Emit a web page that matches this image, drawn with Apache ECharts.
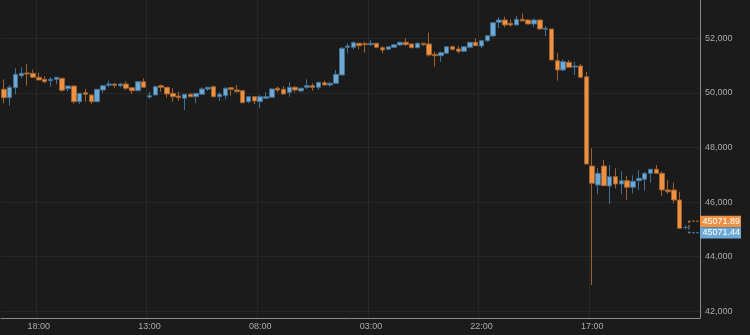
<!DOCTYPE html>
<html>
<head>
<meta charset="utf-8">
<script src="https://cdn.jsdelivr.net/npm/echarts@6/dist/echarts.min.js"></script>
<style>
html,body{margin:0;padding:0;background:#1b1b1b;}
#chart{width:750px;height:335px;}
</style>
</head>
<body>
<div id="chart"></div>
<script>
// ---- data ----
const startHour = 12;          // hour of first category
const categoryCount = 120;     // hourly slots on the axis
const labelStart = 6;          // first labelled slot (18:00)
const labelEvery = 19;         // label every 19 hours

const opens = [50132,49825,50191,50630,50729,50718,50572,50498,50447,50498,
  50535,50154,50253,49678,50007,49923,49678,50106,50279,50326,
  50264,50326,50191,50081,50410,49850,49923,50264,50205,49985,
  49887,49803,49949,49861,49949,50143,50227,49861,49898,50191,
  50106,50081,49678,49861,49678,49803,49839,50169,50132,50022,
  50205,50070,50205,50264,50205,50374,50290,50352,50656,51670,
  51670,51817,51802,51766,51817,51656,51597,51670,51755,51854,
  51791,51656,51817,51791,51414,51363,51451,51692,51608,51524,
  51670,51854,51718,51912,52084,52586,52670,52550,52487,52696,
  52670,52524,52670,52330,52341,51180,50839,51121,50949,50985,
  50593,47322,46627,47322,46590,46931,46663,46784,46542,46784,
  46835,47055,47202,47055,46443,46443,46077,45071.44];
const closes = [49825,50205,50681,50718,50692,50572,50473,50410,50498,50572,
  50095,50253,49678,49985,49949,49678,50132,50264,50326,50279,
  50326,50169,50081,50410,50205,49898,50227,50205,49960,49861,
  49825,49949,49861,49985,50143,50205,49861,49949,50169,50132,
  50044,49641,49861,49704,49861,49861,50143,50106,49960,50205,
  50106,50169,50264,50205,50388,50290,50352,50681,51634,51718,
  51839,51729,51766,51817,51670,51572,51692,51766,51854,51766,
  51656,51817,51766,51388,51363,51473,51692,51597,51524,51692,
  51854,51729,51912,52095,52572,52670,52487,52487,52696,52634,
  52524,52670,52341,52366,51205,50839,51143,50938,50985,50572,
  47396,46689,47055,46601,46931,46663,46784,46542,46762,46872,
  47055,47202,47055,46443,46381,46077,45040,45071.89];
const lows = [49619,49531,49949,50535,50264,50572,50473,50352,50227,50315,
  50044,50044,49605,49583,49678,49583,49656,50007,50205,50169,
  50205,50106,49960,50070,50205,49777,49923,50044,49825,49678,
  49704,49374,49839,49619,49949,50070,49839,49704,49766,49898,
  50022,49641,49619,49593,49436,49803,49839,50022,49960,49861,
  50022,50022,50143,50081,50106,50264,50227,50352,50656,51451,
  51597,51597,51473,51718,51634,51451,51572,51634,51729,51718,
  51634,51634,51718,51326,50960,51143,51451,51546,51451,51498,
  51634,51729,51634,51876,52059,52366,52403,52425,52487,52634,
  52524,52403,52330,52084,51205,50447,50802,50923,50656,50557,
  47396,42963,46297,46601,45931,46506,46297,46077,46322,46443,
  46418,46711,47055,46224,46297,45956,45040,44990];
const highs = [50498,50290,50901,50938,51048,50850,50740,50608,50583,50572,
  50535,50253,50253,49985,50143,49923,50132,50264,50447,50352,
  50363,50425,50191,50410,50535,50044,50264,50315,50205,50169,
  50044,49949,49985,49985,50205,50227,50264,50022,50205,50205,
  50290,50106,49898,49861,49923,50022,50169,50227,50253,50388,
  50253,50191,50498,50352,50410,50447,50410,50839,51670,51817,
  51901,51839,51876,51938,51817,51718,51692,51766,51876,52000,
  51817,51854,51817,52205,51509,51509,51692,51729,51718,51692,
  51854,52000,51912,52121,52586,52769,52791,52696,52828,52916,
  52707,52733,52689,52451,52341,51473,51231,51205,51143,51059,
  50777,47971,47249,47542,47359,47238,47128,46957,46982,47176,
  47103,47202,47359,47128,46810,46711,46381,45150];
const priceTags = [45071.89, 45071.44];   // ask / bid style tags
const yMin = 41755, yMax = 53403;

// ---- build ----
const categories = [];
for (let i = 0; i < categoryCount; i++) {
  const h = (startHour + i) % 24;
  categories.push((h < 10 ? '0' : '') + h + ':00');
}
const ohlc = opens.map((o, i) => [o, closes[i], lows[i], highs[i]]);

const UP = '#6ea9d5', UP_D = '#436f90';
const DN = '#ee9142', DN_D = '#a0622c';
const FONT = '"Liberation Sans", Arial, Helvetica, sans-serif';

const chart = echarts.init(document.getElementById('chart'), null, {renderer: 'canvas'});
const gridRight = 50;
chart.setOption({
  backgroundColor: '#1b1b1b',
  animation: false,
  grid: {left: 1, right: gridRight, top: 0, bottom: 17, containLabel: false},
  xAxis: {
    type: 'category',
    data: categories,
    boundaryGap: true,
    axisLine: {show: true, lineStyle: {color: '#8c8c8c', width: 1}},
    axisTick: {show: false},
    axisLabel: {
      color: '#ababab', fontSize: 9, fontFamily: FONT, margin: 4,
      interval: (idx) => idx >= labelStart && (idx - labelStart) % labelEvery === 0
    },
    splitLine: {show: true, lineStyle: {color: '#272727', width: 1}}
  },
  yAxis: {
    type: 'value',
    position: 'right',
    min: yMin, max: yMax,
    splitNumber: 5,
    scale: true,
    axisLine: {show: true, lineStyle: {color: '#8c8c8c', width: 1}},
    axisTick: {show: false},
    axisLabel: {
      color: '#ababab', fontSize: 9, fontFamily: FONT, margin: 5,
      showMinLabel: false, showMaxLabel: false,
      formatter: (v) => String(v).replace(/\B(?=(\d{3})+(?!\d))/g, ',')
    },
    splitLine: {show: true, showMinLine: false, showMaxLine: false, lineStyle: {color: '#272727', width: 1}}
  },
  series: [{
    type: 'candlestick',
    data: ohlc,
    barWidth: 5,
    itemStyle: {color: UP, color0: DN, borderColor: UP_D, borderColor0: DN_D, borderWidth: 1}
  }]
});

// price tags on the axis, positioned through the chart's own scales
function drawTags() {
  const lastIdx = opens.length - 1;
  const cx = chart.convertToPixel({xAxisIndex: 0}, lastIdx);
  const py = chart.convertToPixel({yAxisIndex: 0}, (priceTags[0] + priceTags[1]) / 2);
  const axisX = chart.getWidth() - gridRight;
  const yTop = py - 6.3, yBot = py + 5.3;
  const x0 = cx + 3;
  const dash = {lineDash: [2, 2], lineWidth: 1};
  chart.setOption({
    graphic: [
      {type: 'line', shape: {x1: x0, y1: yTop, x2: axisX, y2: yTop}, style: Object.assign({stroke: DN}, dash), silent: true},
      {type: 'line', shape: {x1: x0, y1: yBot, x2: axisX, y2: yBot}, style: Object.assign({stroke: UP}, dash), silent: true},
      {type: 'line', shape: {x1: x0 + 0.5, y1: yTop, x2: x0 + 0.5, y2: py}, style: Object.assign({stroke: DN}, dash), silent: true},
      {type: 'line', shape: {x1: x0 + 0.5, y1: py, x2: x0 + 0.5, y2: yBot}, style: Object.assign({stroke: UP}, dash), silent: true},
      {type: 'rect', shape: {x: axisX, y: yTop - 5.5, width: 41, height: 11.3}, style: {fill: DN}, silent: true, z: 10},
      {type: 'text', x: axisX + 2.5, y: yTop + 0.2, style: {text: priceTags[0].toFixed(2), fill: '#ffffff', font: '9px ' + FONT, verticalAlign: 'middle'}, silent: true, z: 11},
      {type: 'rect', shape: {x: axisX, y: yBot - 5.6, width: 41, height: 11.3}, style: {fill: UP}, silent: true, z: 10},
      {type: 'text', x: axisX + 2.5, y: yBot + 0.2, style: {text: priceTags[1].toFixed(2), fill: '#ffffff', font: '9px ' + FONT, verticalAlign: 'middle'}, silent: true, z: 11}
    ]
  });
}
drawTags();
</script>
</body>
</html>
